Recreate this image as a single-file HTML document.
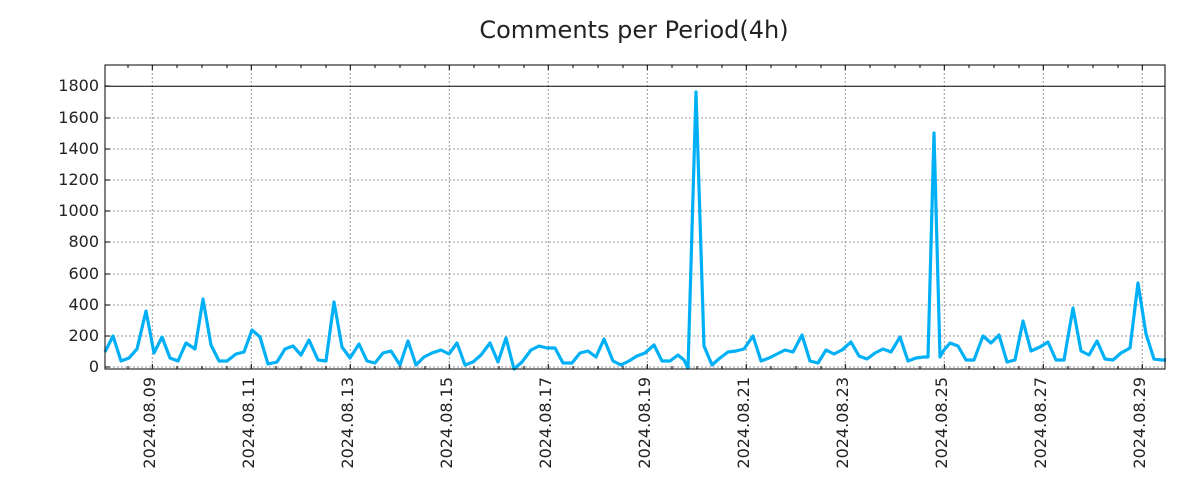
<!DOCTYPE html>
<html><head><meta charset="utf-8"><style>
html,body{margin:0;padding:0;background:#fff;}
svg{display:block;font-family:"DejaVu Sans","Liberation Sans",sans-serif;}
</style></head><body>
<svg width="1200" height="500" viewBox="0 0 1200 500" xmlns="http://www.w3.org/2000/svg">
<rect width="1200" height="500" fill="#fff"/>
<text x="634" y="38" font-size="24" text-anchor="middle" fill="#222">Comments per Period(4h)</text>
<g stroke="#999" stroke-width="1" stroke-dasharray="2,2">
<line x1="105" x2="1165" y1="336" y2="336"/><line x1="105" x2="1165" y1="367" y2="367"/>
<line x1="105" x2="1165" y1="305" y2="305"/><line x1="105" x2="1165" y1="274" y2="274"/>
<line x1="105" x2="1165" y1="242" y2="242"/><line x1="105" x2="1165" y1="211" y2="211"/>
<line x1="105" x2="1165" y1="180" y2="180"/><line x1="105" x2="1165" y1="149" y2="149"/>
<line x1="105" x2="1165" y1="118" y2="118"/>
<line y1="65" y2="369" x1="152.3" x2="152.3"/><line y1="65" y2="369" x1="251.3" x2="251.3"/>
<line y1="65" y2="369" x1="350.3" x2="350.3"/><line y1="65" y2="369" x1="449.3" x2="449.3"/>
<line y1="65" y2="369" x1="548.3" x2="548.3"/><line y1="65" y2="369" x1="647.3" x2="647.3"/>
<line y1="65" y2="369" x1="746.3" x2="746.3"/><line y1="65" y2="369" x1="845.3" x2="845.3"/>
<line y1="65" y2="369" x1="944.3" x2="944.3"/><line y1="65" y2="369" x1="1043.3" x2="1043.3"/>
<line y1="65" y2="369" x1="1142.3" x2="1142.3"/>
</g>
<line x1="105" x2="1165" y1="86.3" y2="86.3" stroke="#000" stroke-width="1"/>
<polyline fill="none" stroke="#00b0f6" stroke-width="3.2" stroke-linejoin="round" points="105,352 113,336 121,361 129,358 137,349 146,311 154,353 162,337 170,358 178,361 186,343 195,349 203,299 211,345 219,361 227,361 236,354 244,352 252,330 260,337 268,364 277,362 285,349 293,346 301,355 309,340 318,360 326,361 334,302 342,347 350,358 359,344 367,361 375,363 383,353 391,351 400,365 408,341 416,365 424,357 432,353 441,350 449,354 457,343 465,365 473,362 481,355 490,343 498,362 506,338 514,369 522,362 531,350 539,346 547,348 555,348 563,363 572,363 580,353 588,351 596,357 604,339 613,361 621,365 629,361 637,356 645,353 654,345 662,361 670,361 678,355 684,360 688,368 696,92 704,346 712,365 720,358 728,352 736,351 744,349 753,336 761,361 769,358 777,354 785,350 793,352 802,335 810,361 818,363 826,350 834,354 842,350 851,342 859,356 867,359 875,353 883,349 891,352 900,337 908,361 916,358 924,357 928,357 934,133 940,357 944,350 950,343 958,346 966,360 974,360 983,336 991,343 999,335 1007,362 1015,360 1023,321 1031,351 1040,347 1048,342 1056,360 1064,360 1073,308 1081,351 1089,355 1097,341 1105,359 1113,360 1121,353 1130,348 1138,283 1146,334 1154,359 1162,360 1166,360"/>
<rect x="105" y="65" width="1060" height="304" fill="none" stroke="#000" stroke-width="1"/>
<g stroke="#000" stroke-width="1">
<path d="M105,367h5M105,336h5M105,305h5M105,274h5M105,242h5M105,211h5M105,180h5M105,149h5M105,118h5M105,86h5"/>
<path d="M152.3,369v-5M251.3,369v-5M350.3,369v-5M449.3,369v-5M548.3,369v-5M647.3,369v-5M746.3,369v-5M845.3,369v-5M944.3,369v-5M1043.3,369v-5M1142.3,369v-5"/>
<path d="M152.3,65v5M251.3,65v5M350.3,65v5M449.3,65v5M548.3,65v5M647.3,65v5M746.3,65v5M845.3,65v5M944.3,65v5M1043.3,65v5M1142.3,65v5"/>
<path d="M128,369v-3M177,369v-3M202,369v-3M227,369v-3M276,369v-3M301,369v-3M326,369v-3M375,369v-3M400,369v-3M425,369v-3M474,369v-3M499,369v-3M524,369v-3M573,369v-3M598,369v-3M623,369v-3M672,369v-3M697,369v-3M722,369v-3M771,369v-3M796,369v-3M821,369v-3M870,369v-3M895,369v-3M920,369v-3M969,369v-3M994,369v-3M1019,369v-3M1068,369v-3M1093,369v-3M1118,369v-3"/>
<path d="M128,65v3M177,65v3M202,65v3M227,65v3M276,65v3M301,65v3M326,65v3M375,65v3M400,65v3M425,65v3M474,65v3M499,65v3M524,65v3M573,65v3M598,65v3M623,65v3M672,65v3M697,65v3M722,65v3M771,65v3M796,65v3M821,65v3M870,65v3M895,65v3M920,65v3M969,65v3M994,65v3M1019,65v3M1068,65v3M1093,65v3M1118,65v3"/>
</g>
<g font-size="16" fill="#222" text-anchor="end">
<text x="99" y="372">0</text><text x="99" y="341">200</text><text x="99" y="310">400</text>
<text x="99" y="279">600</text><text x="99" y="247">800</text><text x="99" y="216">1000</text>
<text x="99" y="185">1200</text><text x="99" y="154">1400</text><text x="99" y="123">1600</text>
<text x="99" y="91">1800</text>
</g>
<g font-size="16" fill="#222" text-anchor="end">
<text transform="translate(155,377) rotate(-90)">2024.08.09</text>
<text transform="translate(254,377) rotate(-90)">2024.08.11</text>
<text transform="translate(353,377) rotate(-90)">2024.08.13</text>
<text transform="translate(452,377) rotate(-90)">2024.08.15</text>
<text transform="translate(551,377) rotate(-90)">2024.08.17</text>
<text transform="translate(650,377) rotate(-90)">2024.08.19</text>
<text transform="translate(749,377) rotate(-90)">2024.08.21</text>
<text transform="translate(848,377) rotate(-90)">2024.08.23</text>
<text transform="translate(947,377) rotate(-90)">2024.08.25</text>
<text transform="translate(1046,377) rotate(-90)">2024.08.27</text>
<text transform="translate(1145,377) rotate(-90)">2024.08.29</text>
</g>
</svg>
</body></html>
